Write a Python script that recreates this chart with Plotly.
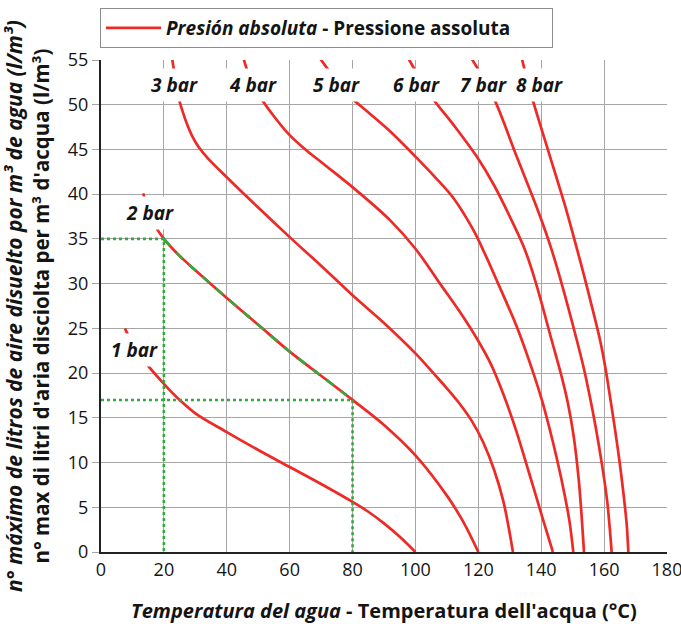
import numpy as np
import plotly.graph_objects as go

# ---- data ----
pressures = ["1 bar", "2 bar", "3 bar", "4 bar", "5 bar", "6 bar", "7 bar", "8 bar"]

t_1bar = [7.6, 10, 13.4, 20, 25, 30, 40, 50, 60, 70, 80, 85, 90, 95, 100]
v_1bar = [25.0, 23.3, 21.5, 18.8, 17.0, 15.5, 13.4, 11.4, 9.5, 7.6, 5.6, 4.5, 3.2, 1.7, 0]

t_2bar = [13.4, 15, 17, 20, 25, 30, 40, 50, 60, 70, 80, 90, 100, 110, 115, 120]
v_2bar = [40.1, 38.3, 36.6, 35.0, 33.1, 31.5, 28.4, 25.4, 22.4, 19.7, 17.0, 14.2, 10.8, 6.3, 3.5, 0]

t_3bar = [22.6, 23.4, 24.5, 26, 27.5, 29, 31, 34, 40, 50, 60, 70, 80, 90, 100, 106.7, 110,
          114, 118, 121.5, 125, 128, 131]
v_3bar = [55.2, 53.4, 51.0, 49.2, 47.7, 46.5, 45.3, 44.0, 41.9, 38.5, 35.2, 32.0, 28.7, 25.6, 22.2, 19.6, 18.3,
          16.6, 14.6, 12.3, 9.2, 5.6, 0]

t_4bar = [45.3, 47.5, 50.6, 54.8, 60, 65, 70.7, 81.3, 91.9, 100, 107.8, 114, 119.8, 124, 128, 132,
          136, 140, 143.7]
v_4bar = [55.2, 52.9, 50.9, 48.8, 46.6, 45.0, 43.4, 40.4, 37.1, 33.9, 30.0, 26.9, 23.7, 21.0, 17.6, 13.6,
          9.0, 4.3, 0]

t_5bar = [69.6, 74, 77, 79.2, 85.5, 92, 100, 106, 112, 118.4, 122, 126.3, 132.2, 137.5, 140.2, 142.5,
          145, 147.5, 149, 150.2]
v_5bar = [55.2, 53.1, 51.8, 50.9, 49.0, 47.0, 44.2, 42.0, 39.6, 36.0, 33.4, 30.0, 25.2, 20.0, 17.0, 14.0,
          10.4, 6.3, 3.4, 0]

t_6bar = [97.7, 105.1, 112, 119.5, 125, 130, 134.8, 138.2, 143.3, 146.5, 148.5, 150.3, 152, 153.6]
v_6bar = [55.2, 50.9, 47.8, 44.2, 41.0, 37.5, 33.8, 30.2, 23.7, 19.6, 16.6, 13.0, 7.8, 0]

t_7bar = [117.8, 124.7, 132.2, 138.5, 141.2, 143.3, 146.5, 151.3, 153.5, 155.5, 157.3, 159.4, 161, 162.4]
v_7bar = [55.2, 50.9, 44.2, 38.6, 36.0, 33.8, 30.0, 23.7, 20.6, 17.3, 14.0, 9.6, 5.6, 0]

t_8bar = [133.8, 137, 142.8, 148, 150.5, 153.4, 156, 158.7, 160.4, 161.9, 163.3, 164.8, 166.2, 167.2, 167.7]
v_8bar = [55.2, 50.9, 44.2, 38.2, 35.0, 31.2, 27.6, 23.7, 20.6, 17.3, 14.1, 10.4, 6.4, 3.0, 0]

curves_t = [t_1bar, t_2bar, t_3bar, t_4bar, t_5bar, t_6bar, t_7bar, t_8bar]
curves_v = [v_1bar, v_2bar, v_3bar, v_4bar, v_5bar, v_6bar, v_7bar, v_8bar]

# worked example on the 2 bar curve: 20 °C -> 35 l/m3, 80 °C -> 17 l/m3
example_temps = [20, 80]
example_vals = [35, 17]
highlight_end = 78  # green dashes stop just before 80 °C

# label anchor points (data coords) for the pressure labels
label_t = [10.5, 15.6, 23.5, 48.4, 75.0, 100.2, 121.5, 139.3]
label_v = [22.6, 37.9, 52.2, 52.2, 52.2, 52.2, 52.2, 52.2]

x_ticks = list(range(0, 181, 20))
y_ticks = list(range(0, 56, 5))

RED = "#ee2a27"
GREEN = "#35a83f"
INK = "#141414"
FONT = "Open Sans"
SMOOTH = 1.0

fig = go.Figure()

for i, (tt, vv) in enumerate(zip(curves_t, curves_v)):
    fig.add_trace(go.Scatter(
        x=tt, y=vv, mode="lines",
        line=dict(color=RED, width=2.7, shape="spline", smoothing=SMOOTH),
        name="<b><i>Presión absoluta</i> - Pressione assoluta</b>",
        showlegend=(i == 0), hoverinfo="skip"))

# green dashed highlight along the 2 bar curve between the example temperatures
seg_t = [t for t in t_2bar if example_temps[0] <= t < highlight_end] + [highlight_end]
seg_v = [v for t, v in zip(t_2bar, v_2bar) if example_temps[0] <= t < highlight_end] + \
        [float(np.interp(highlight_end, t_2bar, v_2bar))]
fig.add_trace(go.Scatter(x=seg_t, y=seg_v, mode="lines", showlegend=False, hoverinfo="skip",
                         line=dict(color=GREEN, width=2.7, dash="dash", shape="spline", smoothing=SMOOTH)))

# dotted guide lines
for t, v in zip(example_temps, example_vals):
    fig.add_trace(go.Scatter(x=[0, t, t], y=[v, v, 0], mode="lines", showlegend=False,
                             hoverinfo="skip", line=dict(color=GREEN, width=2.6, dash="dot")))

for name, lt, lv in zip(pressures, label_t, label_v):
    fig.add_annotation(x=lt, y=lv, text="<b><i>" + name + "</i></b>", showarrow=False,
                       font=dict(family=FONT, size=19, color=INK),
                       bgcolor="white", borderpad=3)

fig.update_layout(
    width=681, height=624,
    margin=dict(l=101, r=14, t=60, b=72),
    paper_bgcolor="white", plot_bgcolor="white",
    font=dict(family=FONT, color=INK),
    legend=dict(
        xref="container", yref="container",
        x=100 / 681, xanchor="left", y=1 - 8 / 624, yanchor="top",
        orientation="h", bordercolor="#8c8c8c", borderwidth=1,
        font=dict(family=FONT, size=19, color=INK),
        entrywidth=381, itemwidth=55, tracegroupgap=0,
    ),
    xaxis=dict(
        range=[0, 180], tickvals=x_ticks, ticktext=[str(v) for v in x_ticks],
        showgrid=True, gridcolor="#a6a6a6", gridwidth=1.4, automargin=False,
        showline=True, linecolor="#222", linewidth=2, zeroline=False,
        ticks="", ticklabeloverflow="allow", tickfont=dict(family=FONT, size=18, color=INK),
        title=dict(text="<b><i>Temperatura del agua</i> - Temperatura dell'acqua (°C)</b>",
                   font=dict(family=FONT, size=20, color=INK), standoff=24),
    ),
    yaxis=dict(
        range=[0, 55], tickvals=y_ticks, ticktext=[str(v) for v in y_ticks],
        showgrid=True, gridcolor="#a6a6a6", gridwidth=1.4, automargin=False,
        showline=True, linecolor="#222", linewidth=2, zeroline=False,
        ticks="outside", ticklen=7, tickcolor="#a6a6a6", tickwidth=1.4,
        tickfont=dict(family=FONT, size=18, color=INK),
        title=dict(text="<b><i><span style='font-size:21px'>n° máximo de litros de aire disuelto por m³ "
                        "de agua (l/m³)</span></i><br>"
                        "n° max di litri d'aria disciolta per m³ d'acqua (l/m³)</b>",
                   font=dict(family=FONT, size=20.5, color=INK), standoff=13),
    ),
)

fig.write_html("out.html", config={"displayModeBar": False},
               post_script="document.body.style.margin='0';")
